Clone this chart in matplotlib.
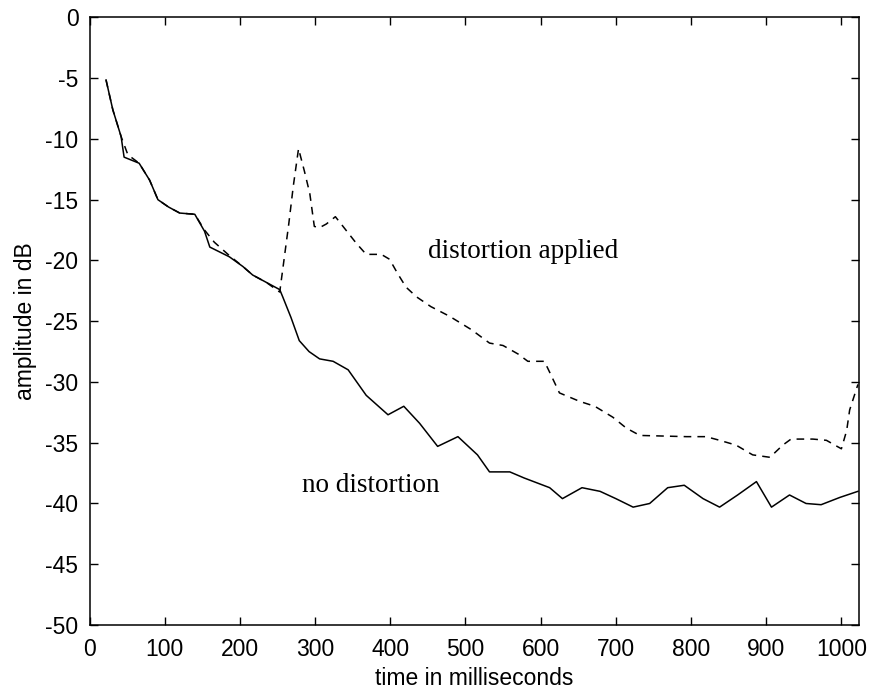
import matplotlib
matplotlib.use("Agg")
import matplotlib.pyplot as plt

plt.rcParams["axes.unicode_minus"] = False

# time (ms) / amplitude (dB)
t_clean = [22, 31, 42, 46, 66, 80, 91, 105, 120, 140, 153, 160, 186, 204, 217, 235, 253,
           257, 268, 279, 292, 306, 324, 344, 368, 397, 418, 439, 463, 490, 516, 532, 559,
           578, 612, 629, 655, 679, 700, 723, 745, 769, 791, 816, 838, 862, 887, 907, 931,
           953, 973, 998, 1022]
db_clean = [-5.15, -7.6, -9.8, -11.5, -12.0, -13.4, -15.0, -15.6, -16.1, -16.2, -17.6, -18.9,
            -19.7, -20.5, -21.2, -21.8, -22.4, -23.0, -24.7, -26.6, -27.5, -28.1, -28.3, -29.0,
            -31.1, -32.7, -32.0, -33.4, -35.3, -34.5, -36.0, -37.4, -37.4, -37.9, -38.7, -39.6,
            -38.7, -39.0, -39.6, -40.3, -40.0, -38.7, -38.5, -39.6, -40.3, -39.3, -38.2, -40.3,
            -39.3, -40.0, -40.1, -39.5, -39.0]

t_dist = [22, 31, 42, 51, 66, 80, 91, 105, 120, 140, 153, 166, 186, 204, 217, 235, 253,
          265, 271, 278, 286, 293, 299, 306, 315, 327, 355, 368, 388, 399, 410, 421, 435,
          454, 479, 508, 532, 550, 570, 583, 605, 612, 625, 652, 672, 696, 714, 732, 794,
          820, 838, 860, 882, 905, 922, 933, 962, 980, 1000, 1007, 1011, 1022]
db_dist = [-5.15, -7.6, -9.8, -11.3, -12.0, -13.4, -15.0, -15.6, -16.1, -16.2, -17.5, -18.5,
           -19.6, -20.5, -21.2, -21.8, -22.6, -17.0, -13.9, -10.8, -12.7, -14.5, -17.2, -17.3,
           -17.0, -16.4, -18.6, -19.5, -19.5, -19.9, -21.1, -22.2, -23.0, -23.8, -24.6, -25.7,
           -26.8, -27.0, -27.7, -28.3, -28.3, -29.2, -30.9, -31.6, -32.0, -32.9, -33.8, -34.4,
           -34.5, -34.5, -34.8, -35.2, -36.0, -36.2, -35.2, -34.7, -34.7, -34.8, -35.5, -34.0,
           -32.3, -30.2]

xticks = list(range(0, 1001, 100))
yticks = list(range(-50, 1, 5))

SANS = ["Liberation Sans", "DejaVu Sans"]
SERIF = ["Liberation Serif", "DejaVu Serif"]

fig = plt.figure(figsize=(8.69, 6.96), dpi=100)
fig.patch.set_facecolor("white")
ax = fig.add_axes([0.103, 0.102, 0.886, 0.873])

ax.plot(t_clean, db_clean, color="black", lw=1.1)
ax.plot(t_dist, db_dist, color="black", lw=1.1, linestyle=(0, (5, 4)))

ax.set_xlim(0, 1024)
ax.set_ylim(-50, 0)
ax.set_xticks(xticks)
ax.set_yticks(yticks)
ax.tick_params(direction="in", length=6, width=1, top=True, right=True,
               labelsize=16.5, pad=9)
ax.tick_params(axis="y", pad=8)
for lab in ax.get_xticklabels() + ax.get_yticklabels():
    lab.set_family(SANS)
for s in ax.spines.values():
    s.set_linewidth(1.1)

ax.set_xlabel("time in milliseconds", fontsize=16.5, family=SANS, labelpad=5)
ax.set_ylabel("amplitude in dB", fontsize=16.5, family=SANS, labelpad=6)

ax.text(450, -19.84, "distortion applied", fontsize=19.5, family=SERIF, va="baseline", ha="left")
ax.text(283, -39.05, "no distortion", fontsize=19.5, family=SERIF, va="baseline", ha="left")

fig.savefig("out.png", dpi=100, facecolor="white")
